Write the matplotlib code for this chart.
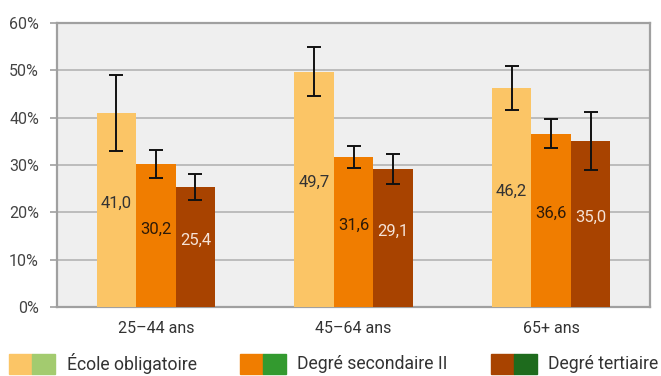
import matplotlib
matplotlib.use("Agg")
import matplotlib.pyplot as plt
from matplotlib.patches import Rectangle
import numpy as np

categories = ["25–44 ans", "45–64 ans", "65+ ans"]
series = ["École obligatoire", "Degré secondaire II", "Degré tertiaire"]
values = {
    "École obligatoire": [41.0, 49.7, 46.2],
    "Degré secondaire II": [30.2, 31.6, 36.6],
    "Degré tertiaire": [25.4, 29.1, 35.0],
}
err_low = {
    "École obligatoire": [33.0, 44.6, 41.6],
    "Degré secondaire II": [27.2, 29.3, 33.5],
    "Degré tertiaire": [22.6, 25.9, 29.0],
}
err_high = {
    "École obligatoire": [49.1, 54.9, 50.9],
    "Degré secondaire II": [33.1, 34.0, 39.7],
    "Degré tertiaire": [28.1, 32.3, 41.2],
}
yticks = [0, 10, 20, 30, 40, 50, 60]

colors = ["#fbc566", "#f07d00", "#a84300"]
greens = ["#a3cb6f", "#339a2f", "#1e6b1d"]
label_colors = ["#333333", "#2e1a08", "#f5e2d6"]

plt.rcParams["font.family"] = ["Roboto", "DejaVu Sans"]

W, H = 661, 376
fig = plt.figure(figsize=(W / 100, H / 100), dpi=100)
ax = fig.add_axes([57 / W, 1 - 307 / H, (650 - 57) / W, (307 - 23) / H])
ax.set_facecolor("#efefef")

x = np.arange(len(categories))
bw = 0.2
for i, s in enumerate(series):
    v = np.array(values[s])
    xs = x + (i - 1) * bw
    ax.bar(xs, v, width=bw, color=colors[i], zorder=3)
    lo = v - np.array(err_low[s])
    hi = np.array(err_high[s]) - v
    ax.errorbar(xs, v, yerr=[lo, hi], fmt="none", ecolor="#111111",
                elinewidth=1.4, capsize=5, capthick=1.4, zorder=4)
    for xi, vi in zip(xs, v):
        ax.text(xi, vi / 2 + 1.4, f"{vi:.1f}".replace(".", ","), ha="center",
                va="center", fontsize=12, color=label_colors[i], zorder=5)

ax.set_xlim(-0.5, 2.5)
ax.set_ylim(0, 60)
ax.set_yticks(yticks)
ax.set_yticklabels([f"{t}%" for t in yticks])
ax.set_xticks(x)
ax.set_xticklabels(categories)
ax.yaxis.grid(True, color="#b4b4b4", linewidth=1.2, zorder=0)
ax.set_axisbelow(True)
for sp in ax.spines.values():
    sp.set_color("#a0a0a0")
    sp.set_linewidth(1.6)
ax.tick_params(axis="y", length=5, color="#a0a0a0", width=1.2, labelsize=11.5,
               labelcolor="#444444", pad=8)
ax.tick_params(axis="x", length=0, labelsize=11.5, labelcolor="#333333", pad=10)

# legend
legend_x = [9, 240, 491]
text_x = [67, 297, 548]
yc = 364
sqw, sqh = 23, 20
for i, s in enumerate(series):
    x0 = legend_x[i]
    fig.patches.append(Rectangle((x0 / W, 1 - (yc + sqh / 2) / H), sqw / W, sqh / H,
                                 transform=fig.transFigure, color=colors[i]))
    fig.patches.append(Rectangle(((x0 + sqw) / W, 1 - (yc + sqh / 2) / H), sqw / W, sqh / H,
                                 transform=fig.transFigure, color=greens[i]))
    fig.text(text_x[i] / W, 1 - yc / H, s, ha="left", va="center", fontsize=12.7,
             color="#333333")

fig.savefig("out.png", dpi=100, facecolor="white")
